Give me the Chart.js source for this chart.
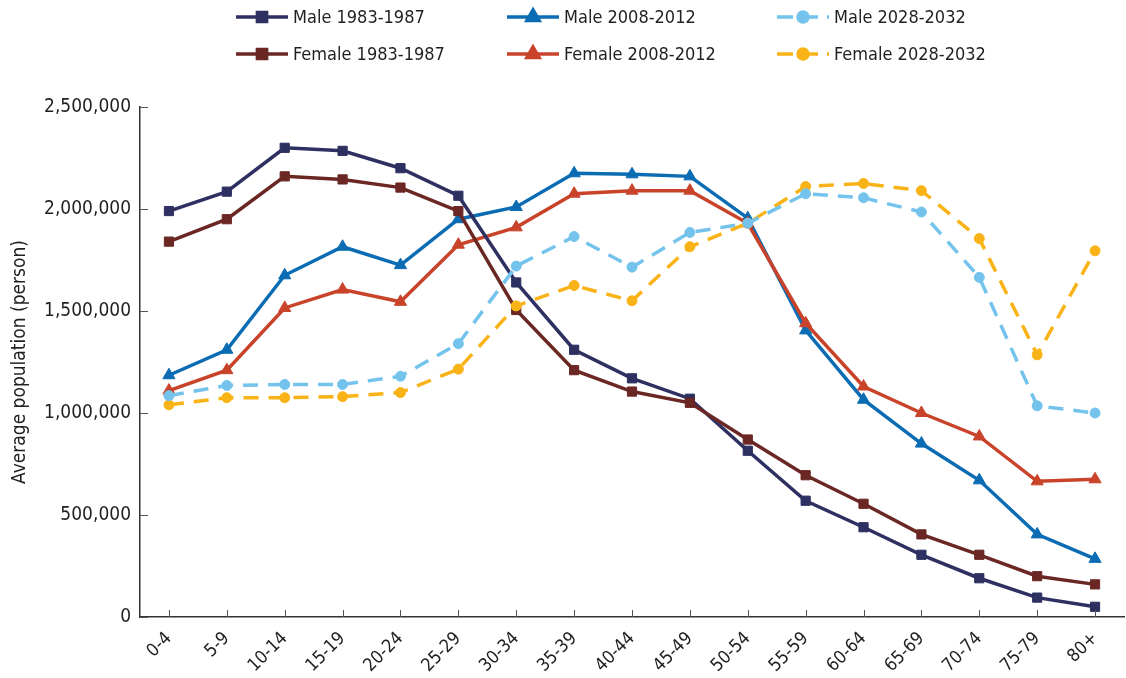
<!DOCTYPE html>
<html><head><meta charset="utf-8">
<script src="https://cdn.jsdelivr.net/npm/chart.js@4.4.1/dist/chart.umd.min.js"></script>
<style>html,body{margin:0;padding:0;background:#fff;}#wrap{width:1126px;height:678px;position:relative;}</style>
</head><body><div id="wrap"><canvas id="c" width="1126" height="678"></canvas></div>
<script>
const categories = ["0-4","5-9","10-14","15-19","20-24","25-29","30-34","35-39","40-44","45-49","50-54","55-59","60-64","65-69","70-74","75-79","80+"];
const male1983 = [1990000,2085000,2300000,2285000,2200000,2065000,1640000,1310000,1170000,1070000,815000,570000,440000,305000,190000,95000,50000];
const female1983 = [1840000,1950000,2160000,2145000,2105000,1990000,1505000,1210000,1105000,1050000,870000,695000,555000,405000,305000,200000,160000];
const male2008 = [1185000,1310000,1675000,1815000,1725000,1950000,2010000,2175000,2170000,2160000,1955000,1405000,1065000,850000,670000,405000,285000];
const female2008 = [1110000,1210000,1515000,1605000,1545000,1825000,1910000,2075000,2090000,2090000,1930000,1440000,1130000,1000000,885000,665000,675000];
const male2028 = [1085000,1135000,1140000,1140000,1180000,1340000,1720000,1865000,1715000,1885000,1930000,2075000,2055000,1985000,1665000,1035000,1000000];
const female2028 = [1040000,1075000,1075000,1080000,1100000,1215000,1525000,1625000,1550000,1815000,1930000,2110000,2125000,2090000,1855000,1285000,1795000];
const yTicks = [0,500000,1000000,1500000,2000000,2500000];
const seriesLabels = ["Male 1983-1987","Male 2008-2012","Male 2028-2032","Female 1983-1987","Female 2008-2012","Female 2028-2032"];

const FONT = "'Liberation Sans Narrow','DejaVu Sans Condensed','Roboto Condensed',sans-serif";
const TXT = '#231f20';
function ds(label, data, color, style, radius, dashed){
  return {label, data, borderColor: color, backgroundColor: color, pointBackgroundColor: color, pointBorderColor: color,
    pointStyle: style, pointRadius: radius, pointBorderWidth: 1, borderWidth: 3.5, tension: 0,
    borderDash: dashed ? [15,10] : [], fill: false, clip: false};
}
const datasets = [
  ds(seriesLabels[2], male2028, '#74c3ec', 'circle', 5, true),
  ds(seriesLabels[5], female2028, '#f9b316', 'circle', 5, true),
  ds(seriesLabels[3], female1983, '#6a2723', 'rect', 6.5, false),
  ds(seriesLabels[0], male1983, '#2d3060', 'rect', 6.5, false),
  ds(seriesLabels[4], female2008, '#c9432a', 'triangle', 7, false),
  ds(seriesLabels[1], male2008, '#0b6cb3', 'triangle', 7, false)
];

const innerTicks = {
  id: 'innerTicks',
  afterDraw(chart){
    const ctx = chart.ctx, ca = chart.chartArea;
    const xs = chart.scales.x, ys = chart.scales.y;
    ctx.save();
    ctx.strokeStyle = '#555'; ctx.lineWidth = 1;
    ys.ticks.forEach((t,i)=>{ const y = Math.round(ys.getPixelForTick(i))+0.5; ctx.beginPath(); ctx.moveTo(ca.left, y); ctx.lineTo(ca.left+8, y); ctx.stroke(); });
    xs.ticks.forEach((t,i)=>{ const x = Math.round(xs.getPixelForTick(i))+0.5; ctx.beginPath(); ctx.moveTo(x, ca.bottom); ctx.lineTo(x, ca.bottom-7); ctx.stroke(); });
    ctx.restore();
  }
};

const customLegend = {
  id: 'customLegend',
  afterDraw(chart){
    const ctx = chart.ctx;
    const colX = [236, 507, 777];
    const rowY = [17, 54];
    ctx.save();
    seriesLabels.forEach((lab, k)=>{
      const d = chart.data.datasets.find(s=>s.label===lab);
      const x0 = colX[k%3], y = rowY[Math.floor(k/3)];
      ctx.strokeStyle = d.borderColor; ctx.fillStyle = d.borderColor; ctx.lineWidth = 3.5;
      ctx.setLineDash(d.borderDash.length ? [16,9] : []);
      ctx.beginPath(); ctx.moveTo(x0, y); ctx.lineTo(x0+52, y); ctx.stroke();
      ctx.setLineDash([]);
      Chart.helpers.drawPoint(ctx, {pointStyle: d.pointStyle, radius: d.pointRadius, borderWidth: 1}, x0+26, y);
      ctx.fillStyle = TXT; ctx.font = "18px " + FONT; ctx.textBaseline = 'middle'; ctx.textAlign = 'left';
      ctx.fillText(lab, x0 + 57, y+1);
    });
    ctx.restore();
  }
};

new Chart(document.getElementById('c'), {
  type: 'line',
  data: { labels: categories, datasets },
  options: {
    responsive: false, animation: false, devicePixelRatio: 1,
    layout: { autoPadding: false, padding: { top: 107, right: 2, left: 0, bottom: 0 } },
    plugins: { legend: { display: false }, tooltip: { enabled: false } },
    scales: {
      x: {
        offset: true,
        grid: { display: false, drawTicks: false },
        border: { display: true, color: '#333', width: 1.5 },
        ticks: { color: TXT, font: { family: FONT, size: 18 }, minRotation: 45, maxRotation: 45, padding: 11, autoSkip: false },
        afterFit(s){ s.height = 61; s.paddingLeft = 0; s.paddingRight = 0; }
      },
      y: {
        min: 0, max: 2500000,
        afterBuildTicks(s){ s.ticks = yTicks.map(v=>({value:v})); },
        grid: { display: false, drawTicks: false },
        border: { display: true, color: '#333', width: 1.5 },
        ticks: { color: TXT, font: { family: FONT, size: 19 }, padding: 9, callback: v => v.toLocaleString('en-US') },
        title: { display: true, text: 'Average population (person)', color: TXT, font: { family: FONT, size: 19 }, padding: { top: 9, bottom: 0 } },
        afterFit(s){ s.width = 140; }
      }
    }
  },
  plugins: [innerTicks, customLegend]
});
</script></body></html>
